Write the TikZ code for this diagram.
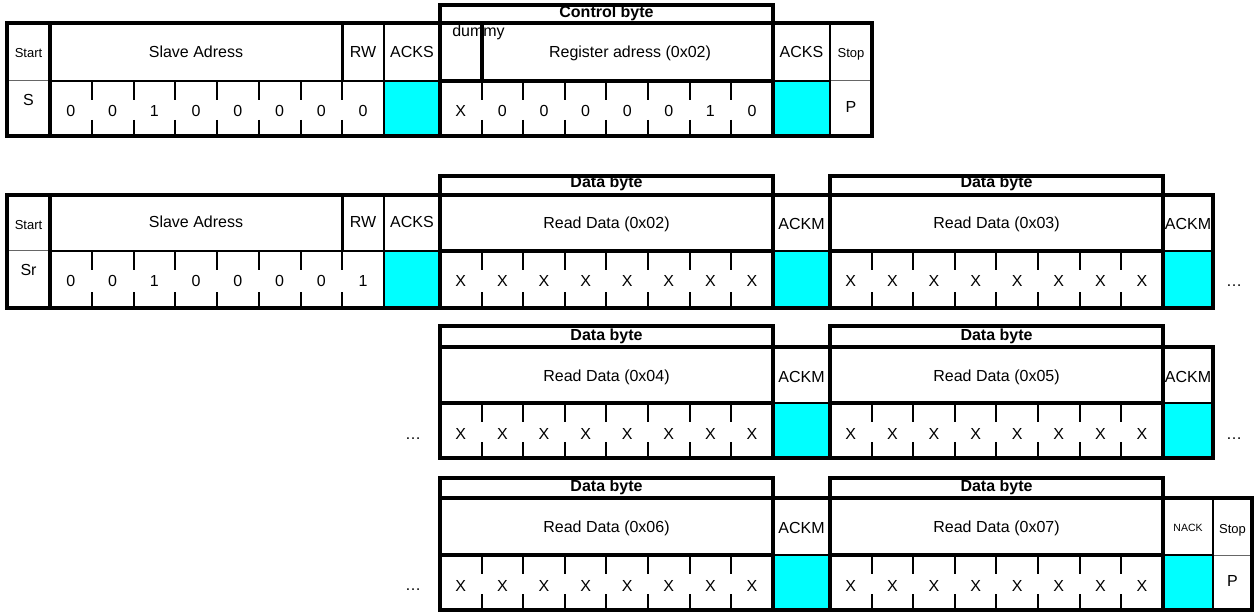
\documentclass[tikz,border=0pt]{standalone}
\usepackage{fontspec}
\setmainfont{Liberation Sans}
\definecolor{ackcyan}{RGB}{0,255,255}
\tikzset{
  frame/.style={line width=4pt},
  cellline/.style={line width=2.5pt},
  tickline/.style={line width=2pt},
  thinline/.style={line width=1pt, black!60},
  ackfill/.style={fill=ackcyan},
  txt/.style={anchor=base, inner sep=0pt, font=\fontsize{16}{16}\selectfont},
  smalltxt/.style={anchor=base, inner sep=0pt, font=\fontsize{13}{13}\selectfont},
  tinytxt/.style={anchor=base, inner sep=0pt, font=\fontsize{10.5}{10.5}\selectfont},
  boldtxt/.style={anchor=base, inner sep=0pt, font=\fontsize{16}{16}\selectfont\bfseries},
}
% address bits ticks: x0, mid, bot
\newcommand{\addrticks}[3]{%
  \foreach \k in {1,...,7}
    \draw[tickline] ({#1+\k*41.75},#2) -- ({#1+\k*41.75},#2+19)
                    ({#1+\k*41.75},#3-16) -- ({#1+\k*41.75},#3);}
% data byte: x0, bytetop, top, mid, bot, label, name
\newcommand{\databyte}[7]{%
  \draw[frame] (#1,#2) rectangle (#1+333,#5);
  \draw[frame] (#1,#3) -- (#1+333,#3) (#1,#4) -- (#1+333,#4);
  \foreach \k in {1,...,7}
    \draw[tickline] ({#1+\k*41.6},#4) -- ({#1+\k*41.6},#4+19)
                    ({#1+\k*41.6},#5-16) -- ({#1+\k*41.6},#5);
  \node[boldtxt] (#7h) at (#1+166.5,#3-7) {Data byte};
  \node[txt] (#7t) at (#1+166.5,#3+34) {#6};
  \foreach \k in {1,...,8}
    \node[txt] (#7b\k) at ({#1+(\k-0.5)*41.6},#4+36) {X};
}
\begin{document}
\begin{tikzpicture}[x=1pt,y=-1pt]
\useasboundingbox (0,0) rectangle (1255,612);

% ---------------- cyan acknowledge cells ----------------
\fill[ackfill] (384,81) rectangle (440,136);
\fill[ackfill] (773,81) rectangle (830,136);
\fill[ackfill] (384,251) rectangle (440,308);
\fill[ackfill] (773,251) rectangle (830,308);
\fill[ackfill] (1163,251) rectangle (1213,308);
\fill[ackfill] (773,403) rectangle (830,458);
\fill[ackfill] (1163,403) rectangle (1213,458);
\fill[ackfill] (773,555) rectangle (830,610);
\fill[ackfill] (1163,555) rectangle (1213,610);

% ================= Row 1 =================
\draw[thinline] (7,81) -- (50,81) (830,81) -- (872,81);
\draw[cellline] (50,81) -- (830,81);
\draw[cellline] (342.25,23) -- (342.25,81) (384,23) -- (384,136) (830,23) -- (830,136);
\draw[frame] (50,23) -- (50,136);
\draw[frame] (7,23) rectangle (872,136);
\addrticks{50}{81}{136}
\draw[frame] (440,5) rectangle (773,136);
\draw[frame] (440,23) -- (773,23) (440,81) -- (773,81);
\draw[frame] (481.6,23) -- (481.6,81);
\foreach \k in {1,...,7}
  \draw[tickline] ({440+\k*41.6},81) -- ({440+\k*41.6},100)
                  ({440+\k*41.6},120) -- ({440+\k*41.6},136);

\node[smalltxt] (r1start) at (28.5,58) {Start};
\node[txt] (r1sa) at (196,57.5) {Slave Adress};
\node[txt] (r1rw) at (363,57.5) {RW};
\node[txt] (r1acks) at (412,57.5) {ACKS};
\node[boldtxt] (r1cb) at (606.5,18) {Control byte};
\node[txt] (r1dummy) at (478.5,37) {dummy};
\node[txt] (r1reg) at (630,57.5) {Register adress (0x02)};
\node[txt] (r1acks2) at (801.5,57.5) {ACKS};
\node[smalltxt] (r1stop) at (851,58) {Stop};
\node[txt] (r1s) at (28.5,106) {S};
\foreach \v [count=\i] in {0,0,1,0,0,0,0,0}
  \node[txt] (r1a\i) at ({50+(\i-0.5)*41.75},117) {\v};
\foreach \v [count=\i] in {X,0,0,0,0,0,1,0}
  \node[txt] (r1c\i) at ({440+(\i-0.5)*41.6},117) {\v};
\node[txt] (r1p) at (851,112.7) {P};

% ================= Row 2 =================
\draw[thinline] (7,251) -- (50,251);
\draw[cellline] (50,251) -- (1213,251);
\draw[cellline] (342.25,195) -- (342.25,251) (384,195) -- (384,308);
\draw[frame] (50,195) -- (50,308);
\draw[frame] (7,195) rectangle (1213,308);
\addrticks{50}{251}{308}
\databyte{440}{176}{195}{251}{308}{Read Data (0x02)}{r2d1}
\databyte{830}{176}{195}{251}{308}{Read Data (0x03)}{r2d2}
\node[smalltxt] (r2start) at (28.5,230) {Start};
\node[txt] (r2sa) at (196,228) {Slave Adress};
\node[txt] (r2rw) at (363,228) {RW};
\node[txt] (r2acks) at (412,228) {ACKS};
\node[txt] (r2ackm1) at (801.5,230) {ACKM};
\node[txt] (r2ackm2) at (1188,230) {ACKM};
\node[txt] (r2sr) at (28.5,276) {Sr};
\foreach \v [count=\i] in {0,0,1,0,0,0,0,1}
  \node[txt] (r2a\i) at ({50+(\i-0.5)*41.75},287) {\v};
\node[txt] (r2dots) at (1234,287) {…};

% ================= Row 3 =================
\draw[frame] (440,347) rectangle (1213,458);
\draw[cellline] (440,403) -- (1213,403);
\databyte{440}{326}{347}{403}{458}{Read Data (0x04)}{r3d1}
\databyte{830}{326}{347}{403}{458}{Read Data (0x05)}{r3d2}
\node[txt] (r3ackm1) at (801.5,382) {ACKM};
\node[txt] (r3ackm2) at (1188,382) {ACKM};
\node[txt] (r3dotsl) at (413,439) {…};
\node[txt] (r3dotsr) at (1234,439) {…};

% ================= Row 4 =================
\draw[thinline] (1213,555) -- (1252,555);
\draw[cellline] (440,555) -- (1213,555);
\draw[cellline] (1213,498) -- (1213,610);
\draw[frame] (440,498) rectangle (1252,610);
\databyte{440}{478}{498}{555}{610}{Read Data (0x06)}{r4d1}
\databyte{830}{478}{498}{555}{610}{Read Data (0x07)}{r4d2}
\node[txt] (r4ackm1) at (801.5,533) {ACKM};
\node[tinytxt] (r4nack) at (1188,531) {NACK};
\node[smalltxt] (r4stop) at (1232.5,533) {Stop};
\node[txt] (r4p) at (1232.5,586.7) {P};
\node[txt] (r4dots) at (413,590) {…};
\end{tikzpicture}
\end{document}
